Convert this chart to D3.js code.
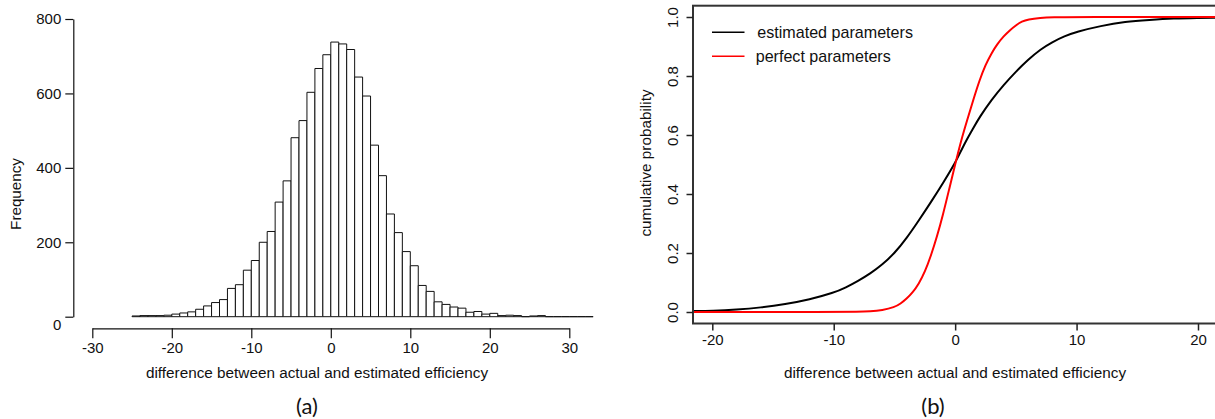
<!DOCTYPE html>
<html><head><meta charset="utf-8">
<script src="https://cdn.jsdelivr.net/npm/d3@7"></script>
<style>
body{margin:0;background:#fff;}
svg text{font-family:"Liberation Sans",Arial,sans-serif;fill:#111;}
</style></head>
<body><svg id="c" width="1215" height="419"></svg>
<script>
// ---- Histogram (a): bins of width 1 starting at -25
const binStart = -25;
const binCounts = [2,3,3,3,4,7,10,13,20,29,38,46,76,86,125,151,200,229,308,365,481,527,603,667,704,738,733,718,644,593,461,379,276,226,175,137,84,68,40,33,26,23,12,14,7,9,3,4,3,0,2,3,0,0,0,0,0,0];
const histXTicks = [-30,-20,-10,0,10,20,30];
const histYTicks = [0,200,400,600,800];

// ---- CDF (b)
const estX = [-21.6,-20,-18,-16,-14,-12,-10,-9,-8,-7,-6,-5,-4,-3,-2,-1,0,0.5,1,1.5,2,3,4,5,6,7,8,9,10,12,14,16,18,20,21.6];
const estP = [0.003,0.004,0.008,0.015,0.026,0.042,0.065,0.083,0.105,0.13,0.16,0.199,0.25,0.31,0.372,0.437,0.505,0.548,0.588,0.624,0.66,0.72,0.77,0.815,0.855,0.89,0.915,0.935,0.95,0.97,0.984,0.99,0.995,0.997,0.998];
const perX = [-21.6,-10,-8,-7,-6,-5,-4.5,-4,-3.5,-3,-2.5,-2,-1.5,-1,-0.5,0,0.5,1,1.5,2,2.5,3,3.5,4,4.5,5,5.5,6,7,8,10,21.6];
const perP = [0,0,0.0005,0.002,0.006,0.016,0.028,0.045,0.066,0.095,0.135,0.19,0.255,0.33,0.415,0.5,0.583,0.652,0.72,0.785,0.838,0.878,0.91,0.935,0.955,0.972,0.985,0.992,0.997,0.999,1,1];
const cdfXTicks = [-20,-10,0,10,20];
const cdfYTicks = [0,0.2,0.4,0.6,0.8,1.0];
const legendLabels = ["estimated parameters","perfect parameters"];
const legendColors = ["#000000","#ff0000"];

const svg = d3.select("#c");
const plain = d => String(d);

// ===== Left plot =====
const xL = d3.scaleLinear().domain([-30,30]).range([92.3,569.3]);
const yL = d3.scaleLinear().domain([0,800]).range([316.7,19]);
const gL = svg.append("g");
gL.selectAll("path.bar").data(binCounts).join("path")
  .attr("class","bar")
  .attr("d",(d,i)=>{
    const x0 = xL(binStart+i), x1 = xL(binStart+i+1), y0 = yL(0), y1 = yL(d);
    return `M${x0},${y0}V${y1}H${x1}V${y0}Z`;
  })
  .attr("fill","#fff").attr("stroke","#111").attr("stroke-width",1);

const ayL = gL.append("g").attr("transform","translate(73.3,0)")
  .call(d3.axisLeft(yL).tickValues(histYTicks).tickFormat(plain).tickSize(8).tickSizeOuter(0).tickPadding(4));
ayL.selectAll("text").style("font-size","15px").attr("fill","#111");
ayL.selectAll(".tick").filter(d=>d===0).select("text").attr("dy","0.85em");
const axL = gL.append("g").attr("transform","translate(0,328.3)")
  .call(d3.axisBottom(xL).tickValues(histXTicks).tickFormat(plain).tickSize(10).tickSizeOuter(0).tickPadding(4));
axL.selectAll("text").style("font-size","15px").attr("fill","#111");
[ayL,axL].forEach(a=>{a.selectAll("path,line").attr("stroke","#111").attr("stroke-width",1.2);});

gL.append("text").attr("transform","translate(15,194) rotate(-90)").attr("text-anchor","middle")
  .attr("dominant-baseline","central").style("font-size","15.2px").text("Frequency");
gL.append("text").attr("x",317).attr("y",372).attr("text-anchor","middle")
  .attr("dominant-baseline","central").style("font-size","15.3px").text("difference between actual and estimated efficiency");
svg.append("text").attr("x",307).attr("y",405).attr("text-anchor","middle").attr("dominant-baseline","central")
  .style("font-family","Lato, 'DejaVu Sans', sans-serif").style("font-size","22px").text("(a)");

// ===== Right plot =====
const xR = d3.scaleLinear().domain([-20,20]).range([712.3,1198]);
const yR = d3.scaleLinear().domain([0,1]).range([312,17]);
const gR = svg.append("g");
const boxL = 693, boxT = 5.7, boxB = 323.5;
gR.append("defs").append("clipPath").attr("id","clipR").append("rect")
  .attr("x",boxL).attr("y",boxT).attr("width",1215-boxL+10).attr("height",boxB-boxT);

const line = d3.line().curve(d3.curveBasis);
const series = [[estX,estP],[perX,perP]];
series.forEach((s,k)=>{
  gR.append("path").attr("clip-path","url(#clipR)")
    .attr("d",line(s[0].map((x,i)=>[xR(x),yR(s[1][i])])))
    .attr("fill","none").attr("stroke",legendColors[k]).attr("stroke-width",2);
});

gR.append("rect").attr("x",boxL).attr("y",boxT).attr("width",1230-boxL).attr("height",boxB-boxT)
  .attr("fill","none").attr("stroke","#333").attr("stroke-width",2);

const ayR = gR.append("g").attr("transform",`translate(${boxL},0)`)
  .call(d3.axisLeft(yR).tickValues(cdfYTicks).tickSize(6.5).tickFormat(d3.format(".1f")));
ayR.select(".domain").remove();
ayR.selectAll("text").style("font-size","15px").attr("fill","#111")
  .attr("transform","rotate(-90)").attr("x",0).attr("y",-20.5).attr("dy",null)
  .attr("text-anchor","middle").attr("dominant-baseline","central");
const axR = gR.append("g").attr("transform",`translate(0,${boxB})`)
  .call(d3.axisBottom(xR).tickValues(cdfXTicks).tickFormat(plain).tickSize(7).tickPadding(4));
axR.select(".domain").remove();
axR.selectAll("text").style("font-size","15px").attr("fill","#111");
[ayR,axR].forEach(a=>{a.selectAll("line").attr("stroke","#222").attr("stroke-width",1.5);});

gR.append("text").attr("transform","translate(645,163) rotate(-90)").attr("text-anchor","middle")
  .attr("dominant-baseline","central").style("font-size","15.3px").text("cumulative probability");
gR.append("text").attr("x",955).attr("y",372).attr("text-anchor","middle")
  .attr("dominant-baseline","central").style("font-size","15.3px").text("difference between actual and estimated efficiency");
svg.append("text").attr("x",933).attr("y",405).attr("text-anchor","middle").attr("dominant-baseline","central")
  .style("font-family","Lato, 'DejaVu Sans', sans-serif").style("font-size","22px").text("(b)");

// legend
const legY = [32.3,56.2];
const legTextX = [757.3,755.7];
legendLabels.forEach((lab,k)=>{
  gR.append("line").attr("x1",712).attr("x2",744.5).attr("y1",legY[k]).attr("y2",legY[k])
    .attr("stroke",legendColors[k]).attr("stroke-width",1.5);
  gR.append("text").attr("x",legTextX[k]).attr("y",legY[k]).attr("dominant-baseline","central")
    .style("font-size","16.1px").text(lab);
});
</script></body></html>
